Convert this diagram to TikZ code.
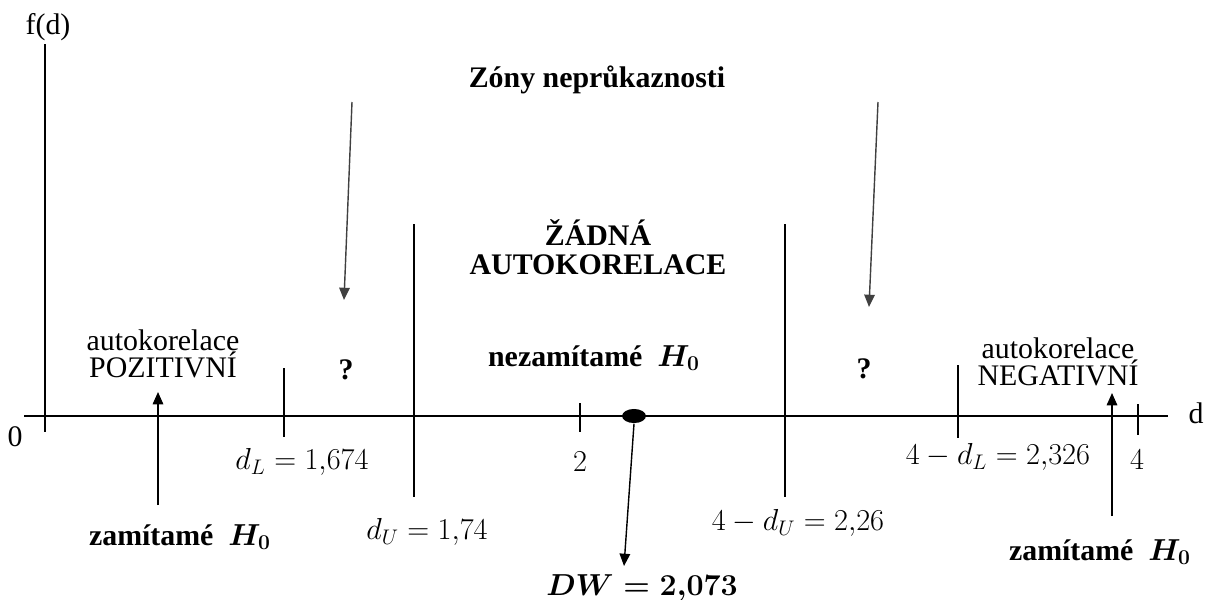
\documentclass[tikz,border=0pt]{standalone}
\usepackage{fontspec}
\setmainfont{Liberation Serif}
\usepackage{amsmath}
\usetikzlibrary{
  positioning,
  arrows.meta,
  shapes.geometric
}

\begin{document}
\begin{tikzpicture}[
  x=0.02cm,
  y=-0.02cm,
  font=\fontsize{17}{14.2}\selectfont,
  line width=0.8pt,
  txt/.style={
    inner sep=1pt,
    align=center
  },
  mathtxt/.style={
    inner sep=1pt,
    font=\fontsize{18.5}{20}\selectfont
  },
  boldtxt/.style={
    inner sep=1pt,
    align=center,
    font=\fontsize{17}{16.4}\selectfont\bfseries\boldmath
  },
  dot/.style={
    ellipse,
    fill=black,
    minimum width=13.6pt,
    minimum height=8pt,
    inner sep=0pt
  },
  arrow/.style={
    -{Triangle[length=7pt,width=6pt]},
    line width=0.8pt
  },
  grayarrow/.style={
    -{Triangle[length=7pt,width=6pt]},
    line width=0.8pt,
    draw=black!75,
    fill=black!75
  }
]
\useasboundingbox (0,0) rectangle (1210,599);

% Axes
\draw (24,416) -- (1168,416);
\draw (45,44) -- (45,432);
\node[txt] (fd) at (48,27) {f(d)};
\node[txt] (zero) at (15,437) {0};
\node[txt] (dax) at (1196,413) {d};

% Critical values
\draw (284,368) -- (284,437);
\draw (414,224) -- (414,497);
\draw (580,403) -- (580,432);
\draw (785,224) -- (785,497);
\draw (958,365) -- (958,438);
\draw (1138,404) -- (1138,435);

\node[mathtxt] (dl) at (302,462) {$d_L = 1{,}674$};
\node[mathtxt] (two) at (580,462) {$2$};
\node[mathtxt] (du) at (427,532) {$d_U = 1{,}74$};
\node[mathtxt] (fdu) at (798,523) {$4 - d_U = 2{,}26$};
\node[mathtxt] (fdl) at (998,457) {$4 - d_L = 2{,}326$};
\node[mathtxt] (four) at (1137,460) {$4$};

% Zones
\node[txt] (poz) at (163,354) {autokorelace\\POZITIVNÍ};
\node[txt] (neg) at (1058,362) {autokorelace\\NEGATIVNÍ};
\node[boldtxt] (q1) at (346,370) {?};
\node[boldtxt] (q2) at (864,369) {?};
\node[boldtxt] (none) at (598,247) {ŽÁDNÁ\\AUTOKORELACE};
\node[boldtxt] (nezam) at (594,358) {nezamítamé~~$H_0$};
\node[boldtxt] (zony) at (597,80) {Zóny neprůkaznosti};
\node[boldtxt] (zam1) at (180,537) {zamítamé~~$H_0$};
\node[boldtxt] (zam2) at (1100,552) {zamítamé~~$H_0$};

% Test statistic
\node[dot] (dw) at (634,416) {};
\node[boldtxt, font=\fontsize{18}{20}\selectfont\bfseries\boldmath] (dwlbl) at (642,588) {$DW = 2{,}073$};

% Arrows
\coordinate (z1a) at (352,102);
\coordinate (z1b) at (344,300);
\coordinate (z2a) at (878,102);
\coordinate (z2b) at (869,307);
\coordinate (p1) at (158,505);
\coordinate (p2) at (158,392);
\coordinate (n1) at (1112,516);
\coordinate (n2) at (1112,393);
\coordinate (dwend) at (624,566);

\draw[grayarrow] (z1a) -- (z1b);
\draw[grayarrow] (z2a) -- (z2b);
\draw[arrow] (p1) -- (p2);
\draw[arrow] (n1) -- (n2);
\draw[arrow] (dw.south) -- (dwend);

\end{tikzpicture}
\end{document}
